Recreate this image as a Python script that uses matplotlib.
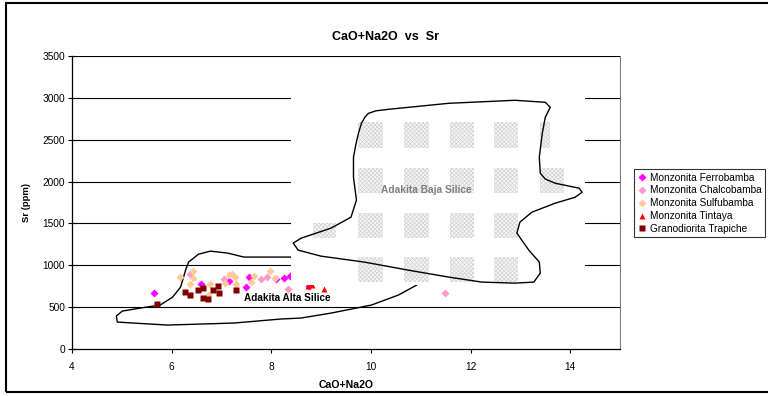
# CaO+Na2O vs Sr - diagrama de adakitas
import numpy as np
import matplotlib.pyplot as plt
from matplotlib.patches import Rectangle, Polygon

plt.rcParams['font.family'] = ['Liberation Sans', 'DejaVu Sans']
plt.rcParams['hatch.linewidth'] = 0.5

# Datos
ferro_x = [5.65, 6.58, 7.15, 7.50, 7.55, 8.09, 8.25, 8.37, 8.76]
ferro_y = [668, 775, 811, 740, 859, 835, 847, 871, 755]
chalco_x = [6.36, 7.06, 7.79, 7.91, 8.33, 11.48]
chalco_y = [895, 835, 835, 859, 716, 668]
sulfu_x = [6.16, 6.42, 6.42, 6.36, 6.78, 6.72, 7.15, 7.22, 7.27, 7.08, 7.29, 7.65, 7.60, 7.97, 8.07]
sulfu_y = [859, 930, 847, 775, 775, 644, 883, 895, 859, 787, 775, 871, 799, 930, 847]
tint_x = [8.74, 8.82, 9.06]
tint_y = [752, 762, 716]
trap_x = [5.71, 6.26, 6.36, 6.52, 6.62, 6.62, 6.72, 6.84, 6.94, 6.96, 7.30]
trap_y = [537, 680, 644, 704, 728, 608, 597, 704, 751, 668, 704]

# Contorno Adakita Alta Silice (abierto)
alta_x = [8.55, 8.40, 7.45, 7.13, 6.78, 6.54, 6.34, 6.28, 6.18, 6.02, 5.77, 5.37, 5.01,
          4.89, 4.91, 5.23, 5.92, 6.58, 7.25, 8.19, 8.60, 9.20, 10.01, 10.55, 10.92, 11.00]
alta_y = [1098, 1098, 1098, 1145, 1169, 1133, 1038, 942, 740, 620, 525, 489, 453,
          394, 322, 310, 286, 298, 310, 358, 370, 429, 525, 644, 764, 800]

# Contorno Adakita Baja Silice (cerrado)
baja_x = [9.81, 9.88, 9.95, 10.10, 10.35, 11.56, 12.89, 13.50, 13.60, 13.50, 13.44, 13.38,
          13.40, 13.50, 13.70, 14.18, 14.24, 14.10, 13.70, 13.23, 12.99, 12.93, 13.17, 13.38,
          13.40, 13.27, 12.89, 12.23, 11.56, 10.75, 9.87, 9.00, 8.54, 8.44, 8.60, 9.20, 9.60,
          9.71, 9.65, 9.65, 9.70, 9.75]
baja_y = [2696, 2770, 2815, 2845, 2863, 2935, 2971, 2947, 2887, 2768, 2577, 2291,
          2100, 2030, 1980, 1921, 1873, 1813, 1742, 1634, 1515, 1384, 1181, 1038,
          907, 799, 787, 799, 859, 942, 1038, 1109, 1181, 1265, 1324, 1444, 1575,
          1778, 2052, 2291, 2450, 2577]

yticks = [0, 500, 1000, 1500, 2000, 2500, 3000, 3500]
xticks = [4, 6, 8, 10, 12, 14]

fig = plt.figure(figsize=(7.68, 3.96), dpi=100)
fig.patches.append(Rectangle((6 / 768, 4 / 396), 770 / 768, 389 / 396, transform=fig.transFigure,
                             fill=False, edgecolor='black', linewidth=1.5))

ax = fig.add_axes([72 / 768, 1 - 349 / 396, 548 / 768, 293 / 396])
ax.set_xlim(4, 15)
ax.set_ylim(0, 3500)
ax.set_xticks(xticks)
ax.set_yticks(yticks)
ax.tick_params(axis='y', direction='inout', length=6, width=0.8, labelsize=7.3, pad=2)
ax.tick_params(axis='x', direction='out', length=3, width=0.8, labelsize=7.3, pad=6)
for y in yticks[1:]:
    ax.axhline(y, color='black', linewidth=0.8, zorder=0.5)
ax.spines['top'].set_visible(False)
ax.spines['right'].set_color('#808080')
ax.spines['right'].set_linewidth(0.8)
ax.spines['left'].set_linewidth(0.9)
ax.spines['bottom'].set_linewidth(0.9)

# contorno alta silice
ax.plot(alta_x, alta_y, color='black', linewidth=1.0, zorder=1, solid_joinstyle='round')

ax.plot(ferro_x, ferro_y, 'D', color='#FF00FF', ms=4, mec='none', linestyle='none',
        label='Monzonita Ferrobamba', zorder=2)
ax.plot(chalco_x, chalco_y, 'D', color='#FF99CC', ms=4, mec='none', linestyle='none',
        label='Monzonita Chalcobamba', zorder=2)
ax.plot(sulfu_x, sulfu_y, 'D', color='#FFCC99', ms=4, mec='none', linestyle='none',
        label='Monzonita Sulfubamba', zorder=2)
ax.plot(tint_x, tint_y, '^', color='#FF0000', ms=5, mec='none', linestyle='none',
        label='Monzonita Tintaya', zorder=2)
ax.plot(trap_x, trap_y, 's', color='#800000', ms=4.5, mec='none', linestyle='none',
        label='Granodiorita Trapiche', zorder=2)

# imagen blanca con marca de agua sobre la zona baja silice
ax.add_patch(Rectangle((8.40, 760), 5.90, 2330, facecolor='white', edgecolor='none', zorder=3))
cols = [(9.75, 10.25), (10.67, 11.16), (11.58, 12.06), (12.47, 12.95)]
rows = [(2398, 2708), (1861, 2159), (1324, 1623), (799, 1098)]
blocks = [(c, r) for c in cols for r in rows]
blocks += [((13.40, 13.88), rows[1]), ((13.40, 13.60), rows[0]), ((8.84, 9.30), (1324, 1500))]
for (x0, x1), (y0, y1) in blocks:
    ax.add_patch(Rectangle((x0, y0), x1 - x0, y1 - y0, facecolor='#f6f6f6', edgecolor='#d2d2d2',
                           hatch='xxxxxxxx', linewidth=0, zorder=3.1))

ax.add_patch(Polygon(np.column_stack([baja_x, baja_y]), closed=True, fill=False,
                     edgecolor='black', linewidth=1.0, zorder=4, joinstyle='round'))
ax.text(11.12, 1897, 'Adakita Baja Silice', color='#808080', fontsize=7.3, fontweight='bold',
        ha='center', va='center', zorder=5)
ax.text(8.33, 608, 'Adakita Alta Silice', color='black', fontsize=7.2, fontweight='bold',
        ha='center', va='center', zorder=5)

ax.set_xlabel('CaO+Na2O', fontsize=7.6, fontweight='bold', labelpad=6)
ax.set_ylabel('Sr (ppm)', fontsize=6.8, fontweight='bold', labelpad=8)
fig.text(386 / 768, 1 - 37 / 396, 'CaO+Na2O  vs  Sr', fontsize=9, fontweight='bold',
         ha='center', va='center')

leg = ax.legend(loc='upper left', bbox_to_anchor=(634 / 768, 1 - 169 / 396),
                bbox_transform=fig.transFigure, borderaxespad=0, fontsize=7.3,
                frameon=True, fancybox=False, handlelength=0.8, handletextpad=0.4,
                labelspacing=0.28, borderpad=0.35)
leg.get_frame().set_edgecolor('black')
leg.get_frame().set_linewidth(0.8)

plt.savefig('out.png', dpi=100)
